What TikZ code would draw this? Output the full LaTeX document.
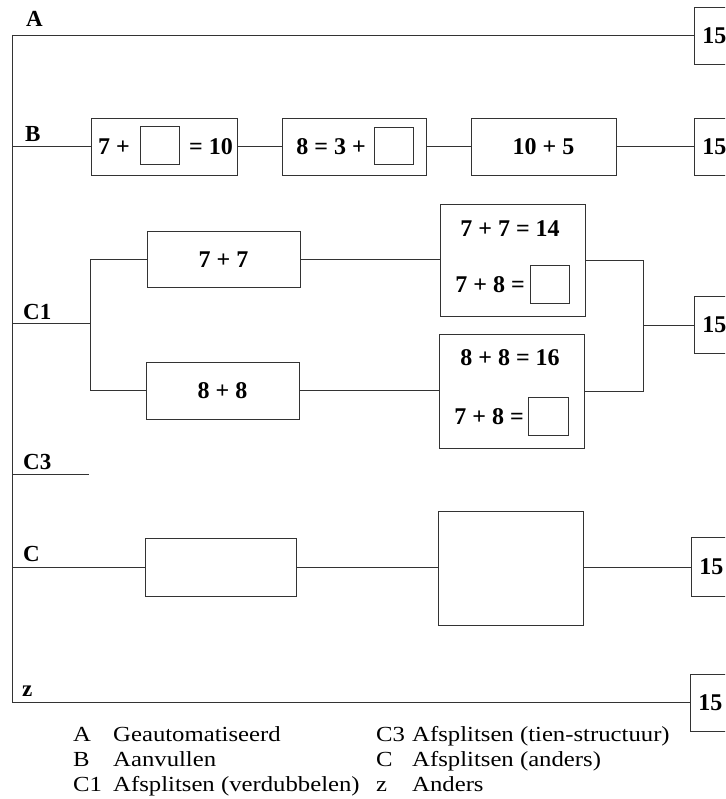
\documentclass[tikz,border=0pt]{standalone}
\usepackage{fontspec}
\setmainfont{Liberation Serif}
\newfontfamily\legendfont{Liberation Serif}[FakeStretch=1.15]
\tikzset{
 ln/.style={line width=0.9pt, draw=black!80},
 bx/.style={draw=black!80, line width=0.9pt, rectangle, inner sep=0pt},
 sq/.style={bx, minimum width=39pt, minimum height=38pt},
 txt/.style={font=\fontsize{24}{26}\selectfont\bfseries, inner sep=0pt},
 lbl/.style={font=\fontsize{23}{25}\selectfont\bfseries, inner sep=0pt, anchor=base west},
 res/.style={bx, anchor=west, minimum height=57pt, text width=34pt, inner xsep=8pt, align=left, font=\fontsize{24}{26}\selectfont\bfseries},
 leg/.style={font=\legendfont\fontsize{21.5}{24}\selectfont, inner sep=0pt, anchor=base west},
}
\begin{document}
\begin{tikzpicture}[x=1pt, y=-1pt]
\useasboundingbox (0,0) rectangle (725,799);
\clip (0,0) rectangle (725,799);

% spine
\coordinate (sA) at (12,35);
\coordinate (sB) at (12,146.5);
\coordinate (sC1) at (12,323);
\coordinate (sC3) at (12,474);
\coordinate (eC3) at (89,474);
\coordinate (sC) at (12,567);
\coordinate (sZ) at (12,702);
\draw[ln] (sA) -- (sZ);

% labels
\node[lbl] (lA) at (26,27) {A};
\node[lbl] (lB) at (25,142) {B};
\node[lbl] (lC1) at (23,319) {C1};
\node[lbl] (lC3) at (23,469) {C3};
\node[lbl] (lC) at (23,561) {C};
\node[lbl] (lZ) at (22,696) {z};

% A row
\node[res] (rA) at (694,36) {15};
\draw[ln] (sA) -- (sA -| rA.west);

% B row
\node[bx, minimum width=146pt, minimum height=57pt] (b1) at (164,146.5) {};
\node[txt] (b1a) at (114,147) {7 +};
\node[sq] (b1s) at (159.5,145.5) {};
\node[txt] (b1b) at (211,147) {= 10};
\node[bx, minimum width=144pt, minimum height=57pt] (b2) at (354,146.5) {};
\node[txt] (b2a) at (331,147) {8 = 3 +};
\node[sq, minimum height=37pt] (b2s) at (393.5,145.5) {};
\node[bx, minimum width=145pt, minimum height=57pt] (b3) at (543.5,146.5) {};
\node[txt] (b3a) at (543.5,147) {10 + 5};
\node[res] (rB) at (694,146.5) {15};
\draw[ln] (sB) -- (b1.west);
\draw[ln] (b1.east) -- (b2.west);
\draw[ln] (b2.east) -- (b3.west);
\draw[ln] (b3.east) -- (rB.west);

% C1 row
\coordinate (fL) at (90,323);
\node[bx, minimum width=153pt, minimum height=56pt] (d7) at (223.5,259.5) {};
\node[txt] (d7t) at (223.5,260) {7 + 7};
\node[bx, minimum width=153pt, minimum height=57pt] (d8) at (222.5,390.5) {};
\node[txt] (d8t) at (222.5,391) {8 + 8};
\draw[ln] (sC1) -- (fL);
\draw[ln] (d7.west) -| (fL);
\draw[ln] (d8.west) -| (fL);

\node[bx, minimum width=145pt, minimum height=112pt] (U) at (512.5,260) {};
\node[txt] (Ut1) at (510,229) {7 + 7 = 14};
\node[txt] (Ut2) at (490,285) {7 + 8 =};
\node[sq] (Us) at (549.5,284) {};
\node[bx, minimum width=145pt, minimum height=114pt] (L) at (511.5,391) {};
\node[txt] (Lt1) at (510,358) {8 + 8 = 16};
\node[txt] (Lt2) at (489,417) {7 + 8 =};
\node[sq, minimum width=40pt] (Ls) at (548,416) {};
\draw[ln] (d7.east) -- (d7.east -| U.west);
\draw[ln] (d8.east) -- (d8.east -| L.west);

\coordinate (fR) at (643,325);
\node[res] (rC1) at (694,325) {15};
\draw[ln] (U.east) -| (fR);
\draw[ln] (L.east) -| (fR);
\draw[ln] (fR) -- (rC1.west);

% C3 row
\draw[ln] (sC3) -- (eC3);

% C row
\node[bx, minimum width=151pt, minimum height=58pt] (c1) at (220.5,567) {};
\node[bx, minimum width=145pt, minimum height=114pt] (c2) at (510.5,568) {};
\node[res, minimum height=59pt] (rC) at (691,567) {15};
\draw[ln] (sC) -- (c1.west);
\draw[ln] (c1.east) -- (c1.east -| c2.west);
\draw[ln] (c1.east -| c2.east) -- (rC.west);

% z row
\node[res] (rZ) at (690,703) {15};
\draw[ln] (sZ) -- (sZ -| rZ.west);

% legend
\node[leg] (k1) at (73,741) {A};
\node[leg] (k1t) at (113,741) {Geautomatiseerd};
\node[leg] (k2) at (73,766) {B};
\node[leg] (k2t) at (113,766) {Aanvullen};
\node[leg] (k3) at (73,791) {C1};
\node[leg] (k3t) at (113,791) {Afsplitsen (verdubbelen)};
\node[leg] (k4) at (376,741) {C3};
\node[leg] (k4t) at (412,741) {Afsplitsen (tien-structuur)};
\node[leg] (k5) at (376,766) {C};
\node[leg] (k5t) at (412,766) {Afsplitsen (anders)};
\node[leg] (k6) at (376,791) {z};
\node[leg] (k6t) at (412,791) {Anders};
\end{tikzpicture}
\end{document}
